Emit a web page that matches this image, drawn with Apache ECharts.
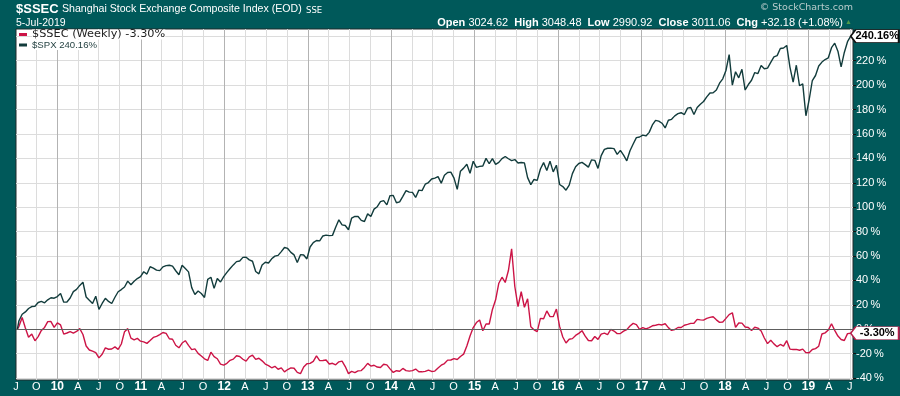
<!DOCTYPE html>
<html><head><meta charset="utf-8">
<script src="https://cdn.jsdelivr.net/npm/echarts@6/dist/echarts.min.js"></script>
<style>html,body{margin:0;padding:0;background:#00595a;}#c{width:900px;height:396px;}</style>
</head><body><div id="c"></div>
<script>
// Percent change since week ending 10-Jul-2009, sampled every other week (first point 10-Jul-2009, then 17-Jul-2009 + 14-day steps to 5-Jul-2019)
const spxPct = [
  // 2009
  0, 7.0, 12.3, 14.2, 17.0, 18.6, 18.8, 21.9, 22.8, 21.6, 24.1, 25.8, 25.4,
  // 2010
  26.8, 29.2, 22.2, 22.3, 25.6, 30.8, 32.7, 35.9, 38.5, 26.4, 23.7, 21.1, 27.1, 16.3, 21.1, 25.3, 22.8, 21.1, 26.2, 30.7, 32.5, 34.6, 39.4, 36.5, 39.3, 41.5, 43.1,
  // 2011
  47.1, 45.2, 51.2, 50.1, 48.4, 48.0, 51.1, 52.1, 52.4, 51.7, 47.9, 44.6, 52.4, 49.7, 47.0, 34.1, 28.5, 31.3, 29.3, 26.0, 40.9, 42.6, 33.5, 41.5, 38.7, 43.1,
  // 2012
  46.6, 49.7, 52.7, 55.4, 55.9, 58.9, 59.0, 56.8, 55.7, 47.3, 45.4, 52.7, 54.9, 54.3, 57.7, 59.9, 60.5, 63.6, 67.0, 66.2, 63.0, 60.9, 54.7, 61.1, 60.8, 57.6,
  // 2013
  67.4, 71.0, 72.7, 72.4, 76.4, 77.1, 76.7, 76.9, 83.6, 89.7, 85.5, 85.0, 81.5, 91.1, 92.4, 92.4, 89.2, 88.3, 94.5, 92.3, 98.4, 100.4, 104.5, 105.4, 101.9, 109.5,
  // 2014
  109.6, 103.6, 104.4, 108.9, 113.6, 112.3, 112.1, 108.0, 114.0, 113.6, 118.8, 120.2, 123.1, 123.8, 125.0, 119.7, 126.2, 128.4, 128.7, 123.8, 114.6, 129.5, 132.0, 135.2, 127.8, 137.6,
  // 2015
  132.6, 133.4, 133.8, 140.0, 135.6, 139.8, 135.1, 136.7, 139.8, 141.5, 139.7, 138.2, 139.0, 136.2, 136.6, 136.3, 124.2, 118.5, 122.7, 122.0, 131.3, 136.5, 130.1, 137.7, 128.9, 134.4,
  // 2016
  118.6, 116.9, 113.9, 118.1, 127.5, 133.1, 135.8, 136.7, 134.9, 132.8, 138.8, 138.4, 131.8, 142.3, 147.4, 148.3, 148.4, 148.0, 143.3, 146.6, 142.6, 138.0, 146.2, 151.8, 157.0, 157.5,
  // 2017
  159.0, 158.4, 161.3, 167.4, 171.1, 170.5, 168.8, 164.9, 171.2, 172.0, 174.8, 176.6, 177.4, 175.9, 181.2, 181.7, 175.9, 181.7, 184.4, 186.6, 190.4, 193.6, 193.7, 196.0, 201.6, 205.2,
  // 2018
  212.0, 225.0, 200.0, 211.0, 206.0, 213.0, 196.0, 200.5, 204.0, 210.3, 209.5, 216.1, 213.4, 213.9, 218.7, 223.1, 224.2, 230.0, 230.4, 232.5, 214.8, 202.4, 216.3, 199.5, 201.0, 174.9,
  // 2019
  188.0, 203.8, 207.9, 215.7, 218.9, 221.0, 222.4, 230.7, 234.4, 227.8, 215.0, 226.8, 235.6, 240.16
];
const ssecPct = [
  // 2009
  0, 2.4, 9.6, 1.0, -6.5, -4.0, -9.5, -6.0, -1.0, 1.5, 6.2, 6.3, 1.5,
  // 2010
  5.2, 3.5, -4.0, -3.1, -2.0, -3.2, -1.8, 0.5, -4.3, -13.7, -17.0, -18.0, -19.2, -23.5, -20.5, -15.3, -16.4, -16.2, -14.5, -16.5, -12.1, -2.0, 0.5, -7.3, -8.7, -7.5, -9.8,
  // 2011
  -10.4, -11.6, -9.2, -6.7, -5.8, -4.4, -2.7, -3.4, -7.8, -8.2, -13.1, -15.2, -11.3, -9.4, -13.2, -16.7, -16.1, -19.8, -21.9, -24.2, -25.6, -18.8, -22.4, -24.2, -28.6, -29.4,
  // 2012
  -27.9, -25.5, -24.5, -21.7, -22.3, -24.6, -26.1, -22.7, -21.3, -24.7, -23.8, -25.9, -28.5, -29.8, -31.6, -30.4, -32.8, -31.7, -34.9, -33.0, -31.7, -32.0, -35.3, -36.4, -31.0, -28.3,
  // 2013
  -28.0, -26.4, -21.9, -25.7, -25.6, -25.2, -28.5, -27.9, -29.2, -26.7, -26.1, -30.6, -36.4, -34.5, -35.5, -34.1, -33.9, -31.3, -28.0, -30.2, -29.5, -31.0, -31.4, -28.7, -29.2, -32.5,
  // 2014
  -35.4, -34.0, -34.4, -32.1, -33.9, -34.3, -33.9, -32.6, -34.9, -34.9, -34.5, -33.5, -34.6, -34.3, -31.7, -29.5, -28.1, -25.3, -25.2, -24.1, -24.8, -22.3, -20.4, -13.8, -5.6, 1.4,
  // 2015
  5.5, 7.6, -1.2, 4.3, 4.3, 16.2, 24.1, 37.7, 42.6, 38.3, 48.1, 65.9, 35.0, 18.5, 30.7, 18.0, 25.0, 2.0, -0.5, -2.0, 8.9, 8.6, 15.0, 10.3, 10.3, 16.5,
  // 2016
  2.3, -6.4, -11.3, -8.2, -7.7, -5.1, -3.4, -1.2, -5.7, -9.2, -9.4, -6.0, -8.3, -4.0, -3.2, -4.4, -0.2, -1.5, -3.6, -3.5, -1.6, -0.3, 2.6, 4.8, 3.8, -0.1,
  // 2017
  1.3, 0.3, 1.4, 2.8, 3.3, 4.0, 3.5, 4.5, 1.3, -1.0, -0.2, 1.4, 1.4, 3.3, 4.0, 4.8, 4.9, 8.1, 7.7, 7.5, 8.9, 9.7, 10.2, 7.7, 5.6, 5.9,
  // 2018
  8.9, 12.0, 13.5, 1.5, 5.1, 5.0, 1.8, 1.4, -1.0, 1.6, 0.9, -1.5, -7.2, -11.8, -9.1, -12.0, -14.3, -12.5, -13.9, -9.4, -16.3, -16.6, -16.5, -17.2, -16.3, -19.2,
  // 2019
  -19.3, -16.6, -15.9, -13.9, -3.9, -3.0, -0.7, 4.5, -0.9, -5.6, -8.4, -9.2, -3.6, -3.3
];
const yTickValues = [-40, -20, 0, 20, 40, 60, 80, 100, 120, 140, 160, 180, 200, 220, 240];
const monthLetters = {3: 'A', 6: 'J', 9: 'O'};
const quoteLabels = ['Open', 'High', 'Low', 'Close', 'Chg'];
const quoteValues = ['3024.62', '3048.48', '2990.92', '3011.06', '+32.18 (+1.08%)'];
const titleSymbol = '$SSEC';
const titleName = 'Shanghai Stock Exchange Composite Index (EOD)';
const titleExchange = 'SSE';
const titleDate = '5-Jul-2019';

// dates: 10-Jul-2009, then every 14 days from 17-Jul-2009
const dates = spxPct.map((_, i) => i === 0 ? new Date(2009, 6, 10).getTime() : new Date(2009, 6, 17 + (i - 1) * 14).getTime());
const xMin = new Date(2009, 6, 4).getTime();
const xMax = new Date(2019, 6, 15).getTime();

const quarterTicks = [], yearTicks = [];
for (let y = 2009; y <= 2019; y++) {
  for (const m of [0, 3, 6, 9]) {
    const t = new Date(y, m, 1).getTime();
    if (t > xMin && t < xMax) { quarterTicks.push(t); if (m === 0) yearTicks.push(t); }
  }
}
const labelTicks = [xMin].concat(quarterTicks);

const fmtPct = v => v.toFixed(2) + '%';
const spxLast = spxPct[spxPct.length - 1], ssecLast = ssecPct[ssecPct.length - 1];
const lastDate = dates[dates.length - 1];
const ssecName = '$SSEC (Weekly) ' + fmtPct(ssecLast);
const spxName = '$SPX ' + fmtPct(spxLast);
const tagPath = 'path://M0,6.5L5,0L48,0L48,13L5,13Z';

const ohlcText = quoteLabels.map((l, i) => '{b|' + l + '} ' + quoteValues[i]).join('  ');

const chart = echarts.init(document.getElementById('c'), null, {renderer: 'canvas'});
chart.setOption({
  animation: false,
  backgroundColor: '#00595a',
  textStyle: {fontFamily: 'Liberation Sans'},
  title: [
    {text: titleSymbol, left: 16, top: 3, padding: 0, textStyle: {color: '#fff', fontSize: 13, fontWeight: 'bold', fontFamily: 'Liberation Sans'}},
    {text: titleName, left: 62, top: 4, padding: 0, textStyle: {color: '#fff', fontSize: 10.6, fontWeight: 'normal', fontFamily: 'Liberation Sans'}},
    {text: titleExchange, left: 306, top: 6, padding: 0, textStyle: {color: '#fff', fontSize: 8.5, fontWeight: 'normal', fontFamily: 'DejaVu Sans'}},
    {text: titleDate, left: 16, top: 18, padding: 0, textStyle: {color: '#fff', fontSize: 10.5, fontWeight: 'normal', fontFamily: 'Liberation Sans'}},
    {text: '\u00a9 StockCharts.com', right: 47, top: 3, padding: 0, textStyle: {color: '#b9cccc', fontSize: 9.5, fontWeight: 'normal', fontFamily: 'DejaVu Sans'}},
    {text: ohlcText, right: 57, top: 17, padding: 0, textStyle: {color: '#fff', fontSize: 11, fontWeight: 'normal', fontFamily: 'Liberation Sans',
      rich: {b: {color: '#fff', fontSize: 11, fontWeight: 'bold', fontFamily: 'Liberation Sans'}}}},
    {text: '\u25b2', right: 48, top: 19, padding: 0, textStyle: {color: '#4f9a4a', fontSize: 7, fontWeight: 'normal'}}
  ],
  legend: {
    left: 19, top: 29, orient: 'vertical', padding: 0, itemGap: 0,
    icon: 'rect', itemWidth: 8, itemHeight: 3, selectedMode: false,
    textStyle: {color: '#000', lineHeight: 10, backgroundColor: '#fff'},
    data: [
      {name: ssecName, textStyle: {fontFamily: 'DejaVu Sans', fontSize: 11.3, color: '#222'}},
      {name: spxName, textStyle: {fontFamily: 'Liberation Sans', fontSize: 9.6, color: '#1f3d3d'}}
    ]
  },
  grid: {left: 16, right: 47, top: 29, bottom: 16, show: true, backgroundColor: '#fff', borderColor: '#1e2a2a', borderWidth: 1, containLabel: false, outerBoundsMode: 'none'},
  xAxis: [
    {
      type: 'value', min: xMin, max: xMax, scale: true,
      axisLine: {show: false},
      axisTick: {show: false, customValues: quarterTicks},
      axisLabel: {
        customValues: labelTicks, color: '#fff', fontSize: 11, margin: 1, fontFamily: 'Liberation Sans',
        formatter: v => { const d = new Date(v); const m = d.getMonth(); return m === 0 ? '{y|' + String(d.getFullYear()).slice(2) + '}' : monthLetters[m]; },
        rich: {y: {color: '#fff', fontSize: 12, fontWeight: 'bold', fontFamily: 'Liberation Sans'}}
      },
      splitLine: {show: true, lineStyle: {color: '#dcdcdc', width: 1}}
    },
    {
      type: 'value', min: xMin, max: xMax, scale: true, position: 'bottom',
      axisLine: {show: false},
      axisTick: {show: false, customValues: yearTicks},
      axisLabel: {show: false, customValues: yearTicks},
      splitLine: {show: true, lineStyle: {color: '#b3b3b3', width: 1}}
    }
  ],
  yAxis: {
    type: 'value', position: 'right', min: -41.6, max: 246,
    axisLine: {show: false},
    axisTick: {show: true, customValues: yTickValues, length: 3, lineStyle: {color: '#111'}},
    axisLabel: {customValues: yTickValues, color: '#fff', fontSize: 11, margin: 3, fontFamily: 'Liberation Sans', formatter: v => v + '\u2009%'},
    splitLine: {show: true, lineStyle: {color: '#dcdcdc', width: 1}}
  },
  series: [
    {
      name: ssecName, type: 'line', symbol: 'none', showSymbol: false,
      data: dates.map((d, i) => [d, ssecPct[i]]),
      lineStyle: {color: '#cc1446', width: 1.4}, itemStyle: {color: '#cc1446'},
      markLine: {silent: true, symbol: 'none', label: {show: false}, lineStyle: {color: '#5e5e5e', width: 1, type: 'solid'}, data: [{yAxis: 0}]},
      markPoint: {
        silent: true, symbol: tagPath, symbolSize: [48, 13], symbolOffset: [24, 0], symbolKeepAspect: false,
        itemStyle: {color: '#fff', borderColor: '#b81d4a', borderWidth: 1},
        label: {show: true, formatter: fmtPct(ssecLast), color: '#000', fontWeight: 'bold', fontSize: 11, fontFamily: 'Liberation Sans', offset: [2.5, 0]},
        data: [{coord: [lastDate, ssecLast]}]
      }
    },
    {
      name: spxName, type: 'line', symbol: 'none', showSymbol: false,
      data: dates.map((d, i) => [d, spxPct[i]]),
      lineStyle: {color: '#123c3c', width: 1.4}, itemStyle: {color: '#123c3c'},
      markPoint: {
        silent: true, symbol: tagPath, symbolSize: [48, 13], symbolOffset: [24, 0], symbolKeepAspect: false,
        itemStyle: {color: '#fff', borderColor: '#111', borderWidth: 1},
        label: {show: true, formatter: fmtPct(spxLast), color: '#000', fontWeight: 'bold', fontSize: 11, fontFamily: 'Liberation Sans', offset: [2.5, 0]},
        data: [{coord: [lastDate, spxLast]}]
      }
    }
  ]
});
</script>
</body></html>
